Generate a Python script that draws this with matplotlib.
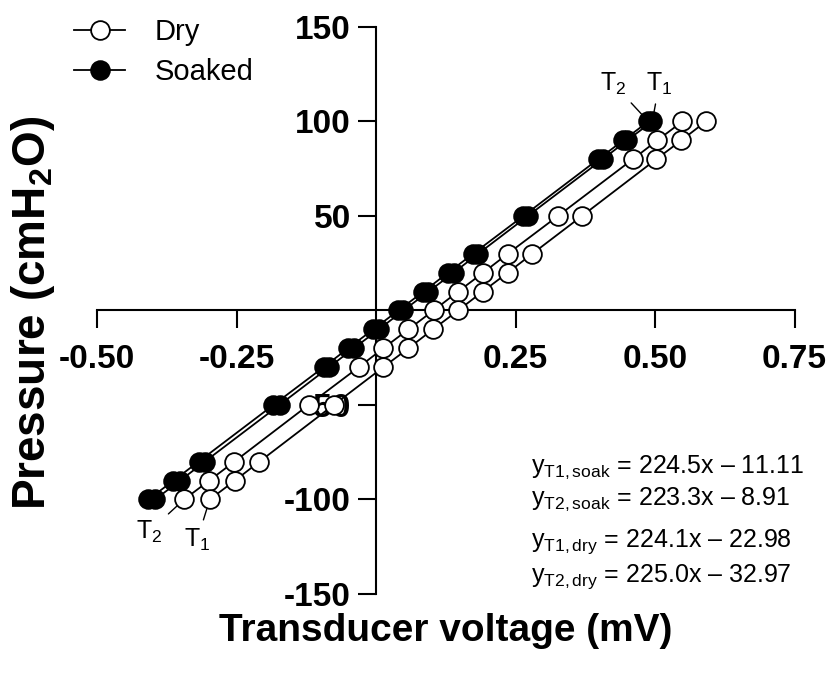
import numpy as np
import matplotlib
matplotlib.use("Agg")
import matplotlib.pyplot as plt

plt.rcParams['font.family'] = ['Liberation Sans', 'DejaVu Sans']
plt.rcParams['mathtext.fontset'] = 'custom'
plt.rcParams['mathtext.rm'] = 'Liberation Sans'
plt.rcParams['mathtext.it'] = 'Liberation Sans'
plt.rcParams['mathtext.bf'] = 'Liberation Sans:bold'

# Applied pressure steps (cmH2O)
pressure = [-100, -90, -80, -50, -30, -20, -10, 0, 10, 20, 30, 50, 80, 90, 100]

# Transducer voltage (mV)
soak_t1 = [-0.396, -0.351, -0.307, -0.173, -0.084, -0.040, 0.005, 0.049,
           0.094, 0.139, 0.183, 0.272, 0.406, 0.450, 0.495]
soak_t2 = [-0.408, -0.363, -0.318, -0.184, -0.094, -0.050, -0.005, 0.040,
           0.085, 0.129, 0.174, 0.264, 0.398, 0.443, 0.488]
dry_t1 = [-0.344, -0.299, -0.254, -0.121, -0.031, 0.013, 0.058, 0.103,
          0.147, 0.192, 0.236, 0.326, 0.460, 0.504, 0.549]
dry_t2 = [-0.298, -0.253, -0.209, -0.076, 0.013, 0.058, 0.102, 0.147,
          0.191, 0.236, 0.280, 0.369, 0.502, 0.547, 0.591]

equations = [r'$\mathregular{y_{T1,soak}}$ = 224.5x – 11.11',
             r'$\mathregular{y_{T2,soak}}$ = 223.3x – 8.91',
             r'$\mathregular{y_{T1,dry}}$ = 224.1x – 22.98',
             r'$\mathregular{y_{T2,dry}}$ = 225.0x – 32.97']

xticks = [-0.50, -0.25, 0.25, 0.50, 0.75]
yticks = [-150, -100, -50, 50, 100, 150]

fig = plt.figure(figsize=(8.3, 6.73), dpi=100)
ax = fig.add_axes([0.1169, 0.1174, 0.8404, 0.8425])

# lines first, then markers (open circles on top)
for xs in [soak_t1, soak_t2, dry_t1, dry_t2]:
    ax.plot(xs, pressure, color='black', lw=1.3, zorder=3, clip_on=False)
for xs in [soak_t1, soak_t2]:
    ax.plot(xs, pressure, ls='none', marker='o', ms=13.5, mfc='black',
            mec='black', mew=1.3, zorder=4, clip_on=False)
for xs in [dry_t1, dry_t2]:
    ax.plot(xs, pressure, ls='none', marker='o', ms=13.5, mfc='white',
            mec='black', mew=1.3, zorder=5, clip_on=False)

ax.set_xlim(-0.5, 0.75)
ax.set_ylim(-150, 150)
ax.spines['left'].set_position(('data', 0))
ax.spines['bottom'].set_position(('data', 0))
ax.spines['top'].set_visible(False)
ax.spines['right'].set_visible(False)
for s in ['left', 'bottom']:
    ax.spines[s].set_linewidth(1.5)

ax.set_xticks(xticks)
ax.set_xticklabels([f'{v:.2f}' for v in xticks])
ax.set_yticks(yticks)
ax.set_yticklabels([str(v) for v in yticks])
ax.tick_params(direction='out', length=13, width=1.5, labelsize=24)
ax.tick_params(axis='x', pad=11)
ax.tick_params(axis='y', pad=5)
for lab in ax.get_xticklabels() + ax.get_yticklabels():
    lab.set_fontweight('bold')

fig.text(0.537, 0.062, 'Transducer voltage (mV)', ha='center', va='center',
         fontsize=28, fontweight='bold')
fig.text(0.04, 0.535, r'Pressure (cmH$\mathbf{_2}$O)', ha='center', va='center',
         fontsize=33, fontweight='bold', rotation=90)

# legend
h_dry, = ax.plot([], [], color='black', lw=1.3, marker='o', ms=13.5,
                 mfc='white', mec='black', mew=1.3)
h_soak, = ax.plot([], [], color='black', lw=1.3, marker='o', ms=13.5,
                  mfc='black', mec='black', mew=1.3)
fig.legend([h_dry, h_soak], ['Dry', 'Soaked'], loc='upper left',
           bbox_to_anchor=(0.058, 1.012), frameon=False, fontsize=21,
           handlelength=1.75, handletextpad=1.0, labelspacing=0.4)

# T labels
lbl = dict(fontsize=18, ha='center', va='center', textcoords='offset points',
           arrowprops=dict(arrowstyle='-', lw=1, color='black',
                           shrinkA=3, shrinkB=7))
ax.annotate(r'T$_1$', xy=(soak_t1[-1], pressure[-1]), xytext=(5, 27), **lbl)
ax.annotate(r'T$_2$', xy=(soak_t2[-1], pressure[-1]), xytext=(-25, 27), **lbl)
ax.annotate(r'T$_2$', xy=(dry_t1[0], pressure[0]), xytext=(-25, -23), **lbl)
ax.annotate(r'T$_1$', xy=(dry_t2[0], pressure[0]), xytext=(-9, -29), **lbl)

ys = [0.305, 0.258, 0.195, 0.143]
for eq, y in zip(equations, ys):
    fig.text(0.64, y, eq, ha='left', va='center', fontsize=18)

fig.savefig('out.png', dpi=100)
